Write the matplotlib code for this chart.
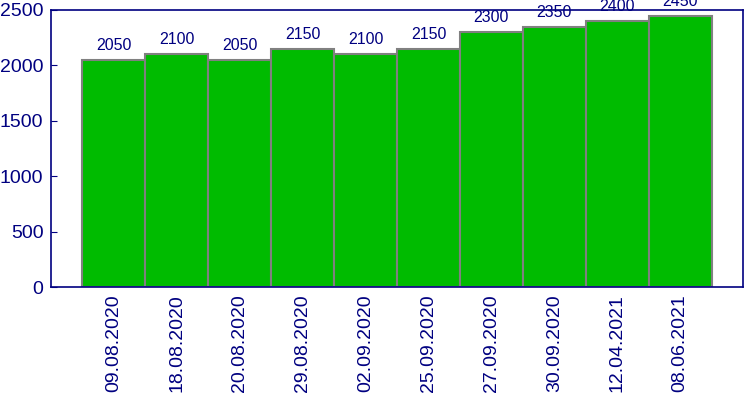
import matplotlib.pyplot as plt
import numpy as np

# bar chart of values per date
dates = ["09.08.2020", "18.08.2020", "20.08.2020", "29.08.2020", "02.09.2020",
         "25.09.2020", "27.09.2020", "30.09.2020", "12.04.2021", "08.06.2021"]
values = [2050, 2100, 2050, 2150, 2100, 2150, 2300, 2350, 2400, 2450]

plt.rcParams['font.family'] = ['Liberation Sans', 'DejaVu Sans']
navy = "#000080"

fig = plt.figure(figsize=(7.5, 4), dpi=100)
axes = fig.add_axes([0.068, 0.2825, 0.9227, 0.6925])
x = np.arange(len(dates))
axes.bar(x, values, width=1.0, color="#00bb00", edgecolor="#808080", linewidth=1.5)
for xi, v in zip(x, values):
    axes.annotate(str(v), (xi, v), xytext=(0, 5), textcoords="offset points",
                  ha="center", va="bottom", fontsize=11.5, color=navy, annotation_clip=False)

axes.set_xlim(-1, 10)
axes.set_ylim(0, 2500)
axes.set_yticks([0, 500, 1000, 1500, 2000, 2500])
axes.set_xticks(x)
axes.set_xticklabels(dates, rotation=90)
axes.tick_params(axis="y", direction="in", length=4, color=navy, labelcolor=navy, labelsize=14, pad=5.5)
axes.tick_params(axis="x", length=0, labelcolor=navy, labelsize=14, pad=5)
for s in axes.spines.values():
    s.set_color(navy)
    s.set_linewidth(1.2)

fig.savefig("out.png", dpi=100)
plt.close()
